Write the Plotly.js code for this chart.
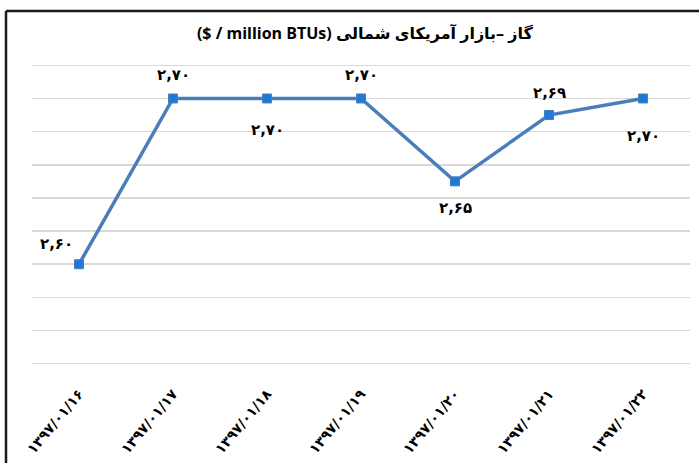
<!DOCTYPE html>
<html>
<head>
<meta charset="utf-8">
<script src="https://cdn.plot.ly/plotly-3.0.1.min.js"></script>
<style>
  html, body { margin: 0; padding: 0; background: #ffffff; }
  #chart { width: 699px; height: 463px; }
</style>
</head>
<body>
<div id="chart"></div>
<script>
// ---- data ----
var dates = ['۱۳۹۷/۰۱/۱۶', '۱۳۹۷/۰۱/۱۷', '۱۳۹۷/۰۱/۱۸', '۱۳۹۷/۰۱/۱۹', '۱۳۹۷/۰۱/۲۰', '۱۳۹۷/۰۱/۲۱', '۱۳۹۷/۰۱/۲۲'];
var prices = [2.60, 2.70, 2.70, 2.70, 2.65, 2.69, 2.70];
var priceLabels = ['۲,۶۰', '۲,۷۰', '۲,۷۰', '۲,۷۰', '۲,۶۵', '۲,۶۹', '۲,۷۰'];
var chartTitle = '($ / million BTUs) گاز –بازار آمریکای شمالی';

// label offsets (pixels) relative to each point – styling only
var labelShiftX = [-23, 0, 0, 0, 0, 0, 0];
var labelShiftY = [20, 23, -32, 23, -27, 22, -38];

var fontStack = 'Open Sans, DejaVu Sans, sans-serif';

var trace = {
  type: 'scatter',
  mode: 'lines+markers',
  x: dates,
  y: prices,
  line: { color: '#4a7ebb', width: 3.5 },
  marker: { symbol: 'square', size: 9, color: '#1f7ad6', line: { color: '#4a7ebb', width: 1 } },
  cliponaxis: false,
  hoverinfo: 'x+y'
};

var annotations = dates.map(function (d, i) {
  return {
    x: d, y: prices[i], xref: 'x', yref: 'y',
    text: '<b>' + priceLabels[i] + '</b>',
    showarrow: false,
    xanchor: 'center', yanchor: 'middle',
    xshift: labelShiftX[i], yshift: labelShiftY[i],
    font: { family: 'DejaVu Sans, sans-serif', size: 15, color: '#000000' }
  };
});

var plotTop = 62, plotBottom = 367, plotH = plotBottom - plotTop;
function py(pix) { return (plotBottom - pix) / plotH; }
function px(pix) { return (pix - 32) / 658; }

var layout = {
  width: 699,
  height: 463,
  margin: { l: 32, r: 9, t: plotTop, b: 463 - plotBottom },
  paper_bgcolor: '#ffffff',
  plot_bgcolor: '#ffffff',
  showlegend: false,
  title: {
    text: '<b>' + chartTitle + '</b>',
    font: { family: fontStack, size: 16, color: '#000000' },
    x: 0.522, xanchor: 'center',
    y: 1 - 33 / 463, yanchor: 'middle'
  },
  xaxis: {
    type: 'category',
    range: [-0.5, 6.5],
    showgrid: false,
    showline: false,
    zeroline: false,
    ticks: '',
    tickangle: -50,
    ticklabelstandoff: 15,
    tickfont: { family: 'DejaVu Sans, sans-serif', size: 14, color: '#000000' },
    tickprefix: '<b>', ticksuffix: '</b>'
  },
  yaxis: {
    range: [2.538, 2.722],
    tick0: 2.54,
    dtick: 0.02,
    showticklabels: false,
    showgrid: true,
    gridcolor: '#d9d9d9',
    gridwidth: 1.5,
    zeroline: false,
    showline: false,
    ticks: ''
  },
  annotations: annotations,
  shapes: [
    { type: 'line', xref: 'paper', yref: 'paper',
      x0: px(6), x1: px(6), y0: py(11), y1: py(470),
      line: { color: '#1a1a1a', width: 2.5 } },
    { type: 'line', xref: 'paper', yref: 'paper',
      x0: px(6), x1: px(705), y0: py(11), y1: py(11),
      line: { color: '#1a1a1a', width: 2.5 } }
  ]
};

Plotly.newPlot('chart', [trace], layout, { displayModeBar: false, staticPlot: true });
</script>
</body>
</html>
